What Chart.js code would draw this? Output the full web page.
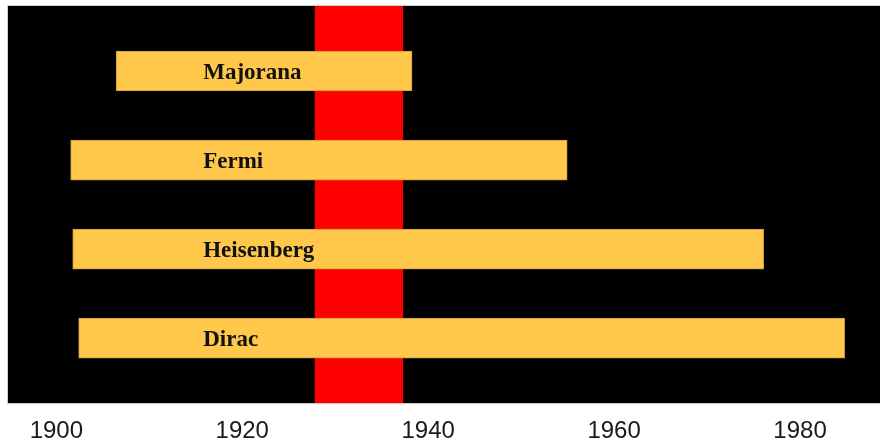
<!DOCTYPE html>
<html>
<head>
<meta charset="utf-8">
<script src="https://cdn.jsdelivr.net/npm/chart.js@4"></script>
<style>
  html, body { margin: 0; padding: 0; background: #ffffff; }
  #wrap { width: 880px; height: 445px; position: relative; }
</style>
</head>
<body>
<div id="wrap"><canvas id="chart"></canvas></div>
<script>
// Datos: físicos y años de vida (fracción de año)
const physicists = ['Majorana', 'Fermi', 'Heisenberg', 'Dirac'];
const bornYears = [1906.43, 1901.54, 1901.76, 1902.40];
const endYears = [1938.26, 1954.95, 1976.09, 1984.80];
const xTickValues = [1900, 1920, 1940, 1960, 1980];
const highlightPeriod = [1927.8, 1937.3];

// Estilo
const LABEL_YEAR = 1915.8;
const barColor = '#ffc84b';
const barEdge = '#c99a3c';

const barData = physicists.map((name, i) => ({ x: [bornYears[i], endYears[i]], y: i }));

// Fondo negro del área de trazado y franja roja
const backgroundPlugin = {
    id: 'background',
    beforeDatasetsDraw(chart) {
        const { ctx, chartArea, scales } = chart;
        ctx.save();
        ctx.fillStyle = '#000000';
        ctx.fillRect(chartArea.left, chartArea.top, chartArea.right - chartArea.left, chartArea.bottom - chartArea.top);
        const x0 = scales.x.getPixelForValue(highlightPeriod[0]);
        const x1 = scales.x.getPixelForValue(highlightPeriod[1]);
        ctx.fillStyle = '#ff0000';
        ctx.fillRect(x0, chartArea.top, x1 - x0, chartArea.bottom - chartArea.top);
        ctx.strokeStyle = '#cfcfcf';
        ctx.lineWidth = 1;
        ctx.strokeRect(chartArea.left - 0.5, chartArea.top - 0.5, chartArea.right - chartArea.left + 1, chartArea.bottom - chartArea.top + 1);
        ctx.restore();
    }
};

// Nombres dentro de las barras
const namesPlugin = {
    id: 'names',
    afterDatasetsDraw(chart) {
        const { ctx, scales } = chart;
        ctx.save();
        ctx.fillStyle = '#111111';
        ctx.font = 'bold 23px "Liberation Serif", serif';
        ctx.textAlign = 'left';
        ctx.textBaseline = 'alphabetic';
        physicists.forEach((name, i) => {
            const x = scales.x.getPixelForValue(LABEL_YEAR);
            const y = scales.y.getPixelForValue(i) + 8;
            ctx.fillText(name, x, y);
        });
        ctx.restore();
    }
};

new Chart(document.getElementById('chart'), {
    type: 'bar',
    data: {
        datasets: [{
            data: barData,
            backgroundColor: barColor,
            borderColor: barEdge,
            borderWidth: 1,
            borderSkipped: false,
            barThickness: 40
        }]
    },
    options: {
        indexAxis: 'y',
        responsive: true,
        maintainAspectRatio: false,
        animation: false,
        layout: { padding: { left: 8, top: 6, right: 0, bottom: -15 } },
        plugins: {
            legend: { display: false },
            tooltip: { enabled: false }
        },
        scales: {
            x: {
                type: 'linear',
                min: 1894.8,
                max: 1988.6,
                grid: { display: false, drawTicks: false },
                border: { display: false },
                afterBuildTicks: (axis) => {
                    axis.ticks = xTickValues.map(v => ({ value: v }));
                },
                ticks: {
                    padding: 14,
                    color: '#1a1a1a',
                    font: { family: '"Liberation Sans", Arial, sans-serif', size: 24 },
                    callback: (v) => String(v)
                }
            },
            y: {
                type: 'linear',
                reverse: true,
                offset: false,
                min: -0.73,
                max: 3.73,
                display: false
            }
        }
    },
    plugins: [backgroundPlugin, namesPlugin]
});
</script>
</body>
</html>
